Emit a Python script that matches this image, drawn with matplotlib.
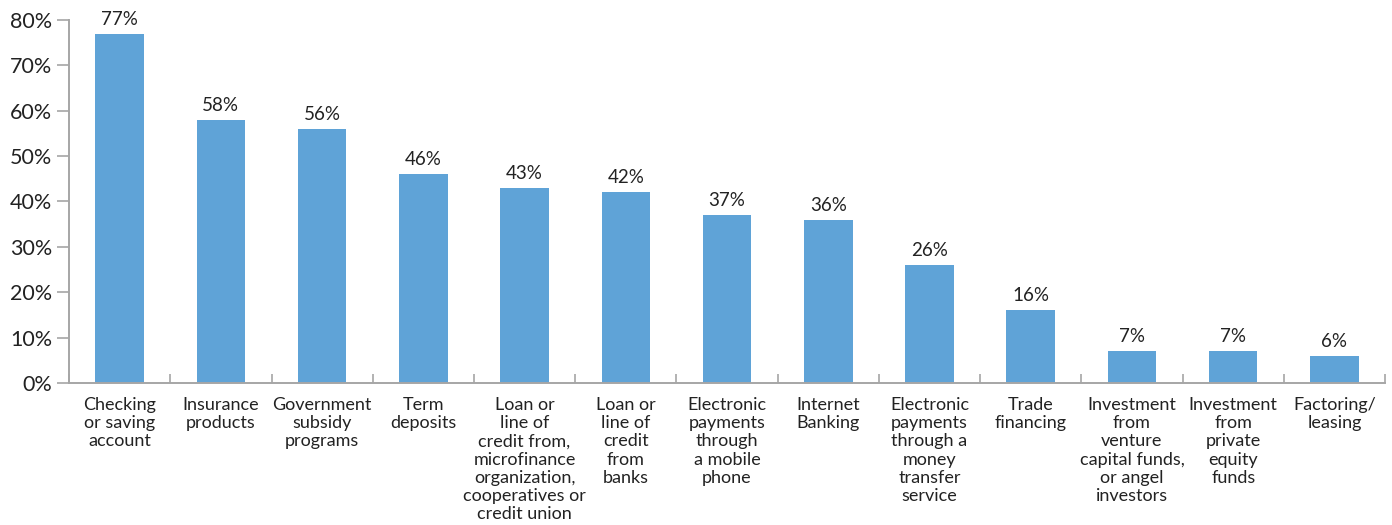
import matplotlib
matplotlib.use("Agg")
import matplotlib.pyplot as plt
import numpy as np

categories = [
    "Checking\nor saving\naccount",
    "Insurance\nproducts",
    "Government\nsubsidy\nprograms",
    "Term\ndeposits",
    "Loan or\nline of\ncredit from,\nmicrofinance\norganization,\ncooperatives or\ncredit union",
    "Loan or\nline of\ncredit\nfrom\nbanks",
    "Electronic\npayments\nthrough\na mobile\nphone",
    "Internet\nBanking",
    "Electronic\npayments\nthrough a\nmoney\ntransfer\nservice",
    "Trade\nfinancing",
    "Investment\nfrom\nventure\ncapital funds,\nor angel\ninvestors",
    "Investment\nfrom\nprivate\nequity\nfunds",
    "Factoring/\nleasing",
]
values = [77, 58, 56, 46, 43, 42, 37, 36, 26, 16, 7, 7, 6]
y_ticks = [0, 10, 20, 30, 40, 50, 60, 70, 80]

plt.rcParams["font.family"] = ["Lato", "DejaVu Sans"]
text_color = "#222222"
axis_color = "#a6a6a6"
bar_color = "#5fa3d7"

fig = plt.figure(figsize=(13.92, 5.25), dpi=100)
ax = fig.add_axes([0.0496, 0.2705, 0.9454, 0.6915])

x = np.arange(len(values))
bars = ax.bar(x, values, width=0.48, color=bar_color, zorder=2)

for xi, v in zip(x, values):
    ax.text(xi, v + 1.3, f"{v}%", ha="center", va="bottom",
            fontsize=13.5, color=text_color)

ax.set_xlim(-0.5, len(values) - 0.5)
ax.set_ylim(0, 80)

ax.set_yticks(y_ticks)
ax.set_yticklabels([f"{t}%" for t in y_ticks], fontsize=15.5, color=text_color)
ax.tick_params(axis="y", direction="out", length=9, width=1.2,
               color=axis_color, pad=3)

# category labels without tick marks at bar centres
ax.set_xticks(x)
ax.set_xticklabels(categories, fontsize=13, color=text_color,
                   linespacing=1.17, va="top")
ax.tick_params(axis="x", length=0, pad=10)

# small upward tick marks at category boundaries
ax.set_xticks(np.arange(len(values) + 1) - 0.5, minor=True)
ax.tick_params(axis="x", which="minor", direction="in", length=6.5,
               width=1.2, color=axis_color)

for side in ("top", "right"):
    ax.spines[side].set_visible(False)
for side in ("left", "bottom"):
    ax.spines[side].set_color(axis_color)
    ax.spines[side].set_linewidth(1.4)

fig.savefig("out.png", dpi=100)
